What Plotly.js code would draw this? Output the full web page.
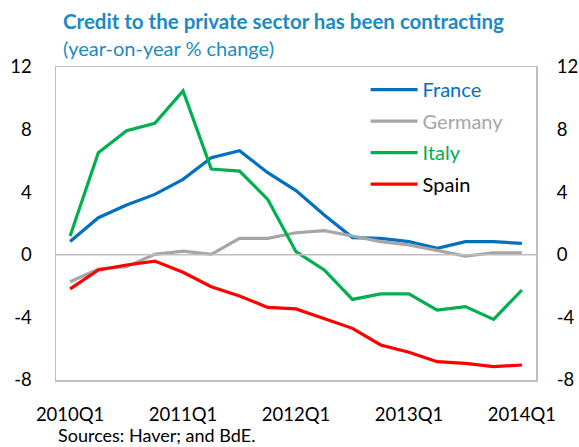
<!DOCTYPE html>
<html>
<head>
<meta charset="utf-8">
<script src="https://cdn.plot.ly/plotly-3.0.1.min.js"></script>
<style>
html,body{margin:0;padding:0;background:#fff;}
#chart{width:579px;height:447px;}
</style>
</head>
<body>
<div id="chart"></div>
<script>
const quarters = [
  "2010Q1","2010Q2","2010Q3","2010Q4",
  "2011Q1","2011Q2","2011Q3","2011Q4",
  "2012Q1","2012Q2","2012Q3","2012Q4",
  "2013Q1","2013Q2","2013Q3","2013Q4",
  "2014Q1"
];
const tickLabels = ["2010Q1","2011Q1","2012Q1","2013Q1","2014Q1"];
const yTicks = [-8,-4,0,4,8,12];

const france  = [0.85, 2.37, 3.18, 3.86, 4.82, 6.2, 6.65, 5.25, 4.1, 2.54, 1.1, 1.05, 0.84, 0.41, 0.84, 0.84, 0.73];
const germany = [-1.72, -0.91, -0.76, 0.03, 0.24, 0.03, 1.05, 1.05, 1.41, 1.54, 1.2, 0.84, 0.63, 0.26, -0.08, 0.13, 0.13];
const italy   = [1.2, 6.52, 7.93, 8.4, 10.47, 5.48, 5.35, 3.54, 0.2, -0.97, -2.85, -2.5, -2.5, -3.53, -3.31, -4.13, -2.25];
const spain   = [-2.18, -0.97, -0.65, -0.4, -1.12, -2.04, -2.63, -3.36, -3.46, -4.1, -4.7, -5.76, -6.23, -6.83, -6.94, -7.15, -7.04];

const seriesNames  = ["France","Germany","Italy","Spain"];
const seriesData   = [france, germany, italy, spain];
const seriesColors = ["#0070c0","#a6a6a6","#00b050","#ff0000"];
const legendColors = ["#0070c0","#a6a6a6","#00b050","#000000"];

const FONT = "Lato, 'Open Sans', sans-serif";

const traces = seriesNames.map((n,i)=>({
  x: quarters, y: seriesData[i], type:"scatter", mode:"lines",
  name: '<span style="color:'+legendColors[i]+'">'+n+'</span>',
  legendgroup: "g"+i,
  line:{color:seriesColors[i], width:3.2},
  hoverinfo:"skip"
}));
// invisible trace to drive the right-hand axis
traces.push({x: quarters, y: france, type:"scatter", mode:"lines", yaxis:"y2",
  showlegend:false, opacity:0, hoverinfo:"skip", line:{color:"rgba(0,0,0,0)"}});

const yaxisCommon = {
  range:[-8,12], autorange:false, tickvals:yTicks, ticktext:yTicks.map(String),
  showgrid:false, zeroline:false, ticks:"outside", ticklen:19, tickcolor:"rgba(0,0,0,0)",
  tickfont:{family:FONT, size:18.5, color:"#000"}, fixedrange:true
};

const layout = {
  width:579, height:447,
  margin:{l:56, r:43, t:67, b:67},
  paper_bgcolor:"#fff", plot_bgcolor:"#fff",
  showlegend:true,
  legend:{x:0.645, y:0.99, xanchor:"left", yanchor:"top",
    font:{family:FONT, size:20}, bgcolor:"rgba(0,0,0,0)", tracegroupgap:2.5,
    traceorder:"grouped", itemwidth:47},
  xaxis:{type:"category", range:[-0.5,16.5], tickvals:tickLabels, ticktext:tickLabels,
    showgrid:false, zeroline:false, showline:true, mirror:true, linecolor:"#bfbfbf", linewidth:1.5,
    ticks:"outside", ticklen:17, tickcolor:"rgba(0,0,0,0)",
    tickfont:{family:FONT, size:18.5, color:"#000"}, fixedrange:true},
  yaxis:Object.assign({}, yaxisCommon, {showline:true, mirror:true, linecolor:"#bfbfbf", linewidth:1.5}),
  yaxis2:Object.assign({}, yaxisCommon, {overlaying:"y", side:"right", showline:false, ticklen:16}),
  shapes:[{type:"line", xref:"paper", x0:0, x1:1, yref:"y", y0:0, y1:0,
    line:{color:"#bfbfbf", width:1.5}}],
  annotations:[
    {xref:"paper", yref:"paper", x:0.0105, y:1.147, xanchor:"left", yanchor:"middle", showarrow:false,
     text:"<b>Credit to the private sector has been contracting</b>",
     font:{family:FONT, size:20.5, color:"#1a8ac4"}},
    {xref:"paper", yref:"paper", x:0.0105, y:1.061, xanchor:"left", yanchor:"middle", showarrow:false,
     text:"(year-on-year % change)",
     font:{family:FONT, size:20, color:"#1a8ac4"}},
    {xref:"paper", yref:"paper", x:0.0, y:-0.1757, xanchor:"left", yanchor:"middle", showarrow:false,
     text:"Sources: Haver; and BdE.",
     font:{family:FONT, size:18, color:"#000"}}
  ]
};

Plotly.newPlot("chart", traces, layout, {staticPlot:true, displayModeBar:false});
</script>
</body>
</html>
